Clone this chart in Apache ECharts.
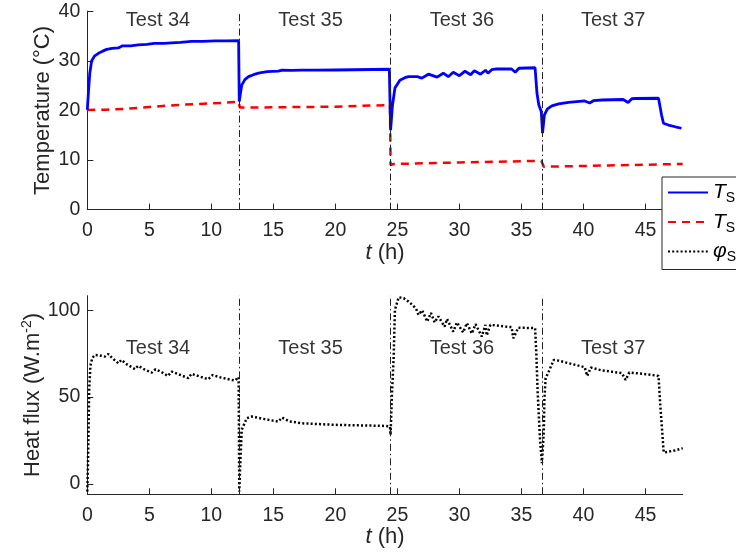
<!DOCTYPE html>
<html>
<head>
<meta charset="utf-8">
<script src="https://cdn.jsdelivr.net/npm/echarts@6/dist/echarts.min.js"></script>
<style>
html,body{margin:0;padding:0;background:#fff;}
#chart{width:736px;height:554px;}
</style>
</head>
<body>
<div id="chart"></div>
<script>
// ---- data (t in hours) ----
var tempSI = [
  [0,20.1],[0.1,24],[0.2,27.5],[0.35,30.0],[0.6,31.0],[0.9,31.5],[1.2,31.9],[1.56,32.3],[2.0,32.5],[2.5,32.6],[2.8,33.0],[3.5,33.0],[4.1,33.2],[4.8,33.3],[5.4,33.5],[6.2,33.5],[6.8,33.6],[7.5,33.7],[8.4,33.9],[9.3,33.9],[10.3,34.0],[11.2,34.0],[12.2,34.05],
  [12.25,21.8],
  [12.35,23.5],[12.45,25.1],[12.7,26.2],[13.0,26.8],[13.4,27.2],[13.8,27.5],[14.5,27.8],[15.4,27.9],[15.7,28.1],[16.5,28.05],[17.3,28.1],[18.5,28.1],[20,28.15],[21.5,28.2],[23,28.25],[24.35,28.3],
  [24.45,16.0],
  [24.6,21],[24.8,24.5],[25.2,26.1],[25.6,26.6],[25.9,26.8],[26.6,26.8],[26.97,26.5],[27.5,27.3],[28.2,26.7],[28.7,27.5],[29.1,26.8],[29.5,27.7],[30.0,27.0],[30.45,27.9],[30.9,27.2],[31.2,28.0],[31.7,27.3],[32.1,28.1],[32.3,27.5],[32.6,28.2],[33.0,28.35],[34.2,28.35],[34.5,27.7],[34.8,28.5],[36.1,28.6],
  [36.25,23.5],[36.4,21.1],[36.6,19.8],[36.7,15.4],
  [36.85,19.1],[37.1,20.3],[37.45,20.9],[38.0,21.3],[38.8,21.6],[40.1,21.9],[40.5,21.5],[40.8,21.95],[41.5,22.1],[43.2,22.2],[43.6,21.6],[43.9,22.35],[44.2,22.4],[46.05,22.45],[46.3,19.0],[46.45,17.4],[46.85,17.05],[47.4,16.7],[47.9,16.4]
];
var tempSE = [
  [0,20.1],[1.5,20.15],[3,20.3],[5,20.7],[7.3,21.1],[9,21.3],[11.1,21.55],[12.2,21.75],
  [12.3,20.6],[14,20.6],[16,20.65],[18,20.7],[20,20.75],[22,20.9],[24.4,21.1],
  [24.45,9.0],
  [24.7,9.2],[26,9.25],[28,9.4],[30,9.5],[32,9.6],[34,9.7],[36.6,9.85],
  [36.8,8.65],[38,8.7],[40,8.8],[42,8.9],[44,9.0],[46,9.1],[48,9.2]
];
var fluxSI = [
  [0,-4.4],[0.05,10],[0.1,30],[0.15,54],[0.25,68],[0.4,72.5],[0.62,74.3],[1.0,74],[1.43,73.3],[1.7,74.8],[2.0,72.5],[2.5,69.5],[2.75,71.4],[3.2,68.8],[3.85,66.1],[4.1,68],[4.6,66],[5.2,64.1],[5.5,66],[6.0,64.3],[6.5,62.2],[6.8,64.7],[7.4,63],[8.15,60.9],[8.4,63.4],[9.0,62],[9.75,60.3],[10.1,62.7],[10.8,61.2],[11.9,59.5],[12.2,61.5],
  [12.25,-4.4],
  [12.35,15],[12.45,31.1],[12.85,37.8],[13.25,38.8],[14.3,37.3],[15.4,35.9],[15.7,38.2],[16.3,36],[17.3,34.9],[18.5,34.5],[20,34.0],[22,33.7],[24.0,33.4],[24.4,33],[24.45,28.2],
  [24.55,50],[24.7,73.3],[24.8,100.2],[25.1,107.5],[25.5,107],[25.9,105],[26.2,103.1],
  [26.5,101],[26.7,97.4],[27.0,100],[27.4,93.5],[27.7,98.5],[28.0,93],[28.3,96.5],[28.8,90.6],[29.0,95],[29.5,87.7],[29.8,93],[30.3,87.2],[30.6,92.6],[31.0,86.6],[31.3,92],[31.8,84.9],[32.1,91.6],[32.2,85.5],[32.5,91.6],[33.0,91.2],[33.7,90.6],[34.2,90.3],[34.35,83.9],[34.5,85],[34.75,90.0],[36.1,89.7],
  [36.2,75],[36.3,54],[36.5,25.3],[36.65,11.9],[36.7,10.9],[36.8,30],[36.85,48.4],[36.95,60.9],[37.2,64.7],[37.6,71.4],[38.0,71.0],[38.8,69.5],[39.5,68.3],[40.1,67.2],[40.3,62.2],[40.6,67.0],[41.5,65.3],[42.3,64.6],[43.1,63.8],[43.4,59.9],[43.7,64.2],[45,63.2],[46.05,62.2],
  [46.2,44.5],[46.35,30],[46.45,19.6],[46.5,18],[46.85,18.6],[47.4,19.3],[48,20.5]
];
var testBounds = [12.25, 24.45, 36.7];
var testNames = ['Test 34', 'Test 35', 'Test 36', 'Test 37'];
var testCenters = [5.7, 18.0, 30.2, 42.4];
var xTicks = [0, 5, 10, 15, 20, 25, 30, 35, 40, 45];
var tempTicks = [0, 10, 20, 30, 40];
var fluxTicks = [0, 50, 100];
var seriesNames = ['T_SI', 'T_SE', 'phi_SI'];

// ---- chart ----
var FONT = 'Liberation Sans';
var TXT = '#262626';
var TICK_FS = 19.5;
var TITLE_FS = 22;
var chart = echarts.init(document.getElementById('chart'), null, {renderer: 'canvas'});

function xAxisDef(gi) {
  return {
    gridIndex: gi, type: 'value', min: 0, max: 48,
    axisLine: {show: true, onZero: false, lineStyle: {color: TXT, width: 1}},
    axisTick: {show: true, inside: true, length: 6, customValues: xTicks, lineStyle: {color: TXT}},
    axisLabel: {customValues: xTicks, fontSize: TICK_FS, color: TXT, fontFamily: FONT, margin: 11},
    splitLine: {show: false},
    name: '{i|t} (h)', nameLocation: 'middle', nameGap: 31,
    nameTextStyle: {fontSize: TITLE_FS, color: TXT, fontFamily: FONT,
      rich: {i: {fontStyle: 'italic', fontSize: TITLE_FS, color: TXT, fontFamily: FONT}}}
  };
}
function yAxisDef(gi, min, max, ticks, name, gap, rich) {
  return {
    gridIndex: gi, type: 'value', min: min, max: max,
    axisLine: {show: true, onZero: false, lineStyle: {color: TXT, width: 1}},
    axisTick: {show: true, inside: true, length: 6, customValues: ticks, lineStyle: {color: TXT}},
    axisLabel: {customValues: ticks, fontSize: TICK_FS, color: TXT, fontFamily: FONT, margin: 7},
    splitLine: {show: false},
    name: name, nameLocation: 'middle', nameGap: gap, nameMoveOverlap: false,
    nameTextStyle: {fontSize: TITLE_FS, color: TXT, fontFamily: FONT, rich: rich}
  };
}
function vlines(xi, yi) {
  return {
    type: 'line', xAxisIndex: xi, yAxisIndex: yi, data: [], silent: true,
    markLine: {
      silent: true, symbol: ['none', 'none'], label: {show: false},
      lineStyle: {color: '#222', width: 1, type: [7, 3, 1.5, 3]},
      emphasis: {disabled: true},
      data: testBounds.map(function (b) { return {xAxis: b}; })
    }
  };
}
function labels(xi, yi, yVal) {
  return {
    type: 'scatter', xAxisIndex: xi, yAxisIndex: yi, symbolSize: 0, silent: true,
    label: {show: true, position: 'inside', formatter: '{b}', fontSize: 20, color: '#000', fontFamily: FONT},
    data: testNames.map(function (n, i) { return {name: n, value: [testCenters[i], yVal]}; })
  };
}

var subRich = {
  t: {fontStyle: 'italic', fontSize: 21, lineHeight: 26, verticalAlign: 'middle', color: '#000', fontFamily: FONT},
  s: {fontSize: 14, lineHeight: 12, verticalAlign: 'bottom', color: '#000', fontFamily: FONT}
};

var option = {
  animation: false,
  backgroundColor: '#fff',
  textStyle: {fontFamily: FONT},
  grid: [
    {left: 87.3, top: 11.2, width: 595.4, height: 198.4},
    {left: 87.3, top: 295.7, width: 595.4, height: 198.6}
  ],
  xAxis: [xAxisDef(0), xAxisDef(1)],
  yAxis: [
    yAxisDef(0, 0, 40, tempTicks, 'Temperature (°C)', 33, {}),
    yAxisDef(1, -6, 108.4, fluxTicks, '{a|Heat flux (W.m}{p|-2}{a|)}', 41, {
      a: {fontSize: TITLE_FS, lineHeight: 26, verticalAlign: 'middle', color: TXT, fontFamily: FONT},
      p: {fontSize: 14, lineHeight: 12, verticalAlign: 'top', color: TXT, fontFamily: FONT}
    })
  ],
  legend: {
    data: seriesNames, orient: 'vertical', left: 662, top: 177,
    backgroundColor: '#fff', borderColor: '#262626', borderWidth: 1,
    padding: [5, 6, 5, 5], itemWidth: 40, itemHeight: 14, itemGap: 6,
    selectedMode: false,
    itemStyle: {opacity: 0},
    formatter: function (n) {
      if (n === 'T_SI') return '{t|T}{s|SI}';
      if (n === 'T_SE') return '{t|T}{s|SE}';
      return '{t|φ}{s|SI}';
    },
    textStyle: {rich: subRich, padding: [0, 0, 0, 0]}
  },
  series: [
    vlines(0, 0),
    vlines(1, 1),
    {name: 'T_SE', type: 'line', xAxisIndex: 0, yAxisIndex: 0, data: tempSE, symbol: 'none', silent: true,
     lineStyle: {color: '#ff0000', width: 2.5, type: [8, 6]}, itemStyle: {color: '#ff0000'}},
    {name: 'T_SI', type: 'line', xAxisIndex: 0, yAxisIndex: 0, data: tempSI, symbol: 'none', silent: true,
     lineStyle: {color: '#0000ff', width: 2.8}, itemStyle: {color: '#0000ff'}},
    {name: 'phi_SI', type: 'line', xAxisIndex: 1, yAxisIndex: 1, data: fluxSI, symbol: 'none', silent: true,
     lineStyle: {color: '#000', width: 2.5, type: [2, 2.2]}, itemStyle: {color: '#000'}},
    labels(0, 0, 38.2),
    labels(1, 1, 77.8)
  ]
};
chart.setOption(option);
</script>
</body>
</html>
